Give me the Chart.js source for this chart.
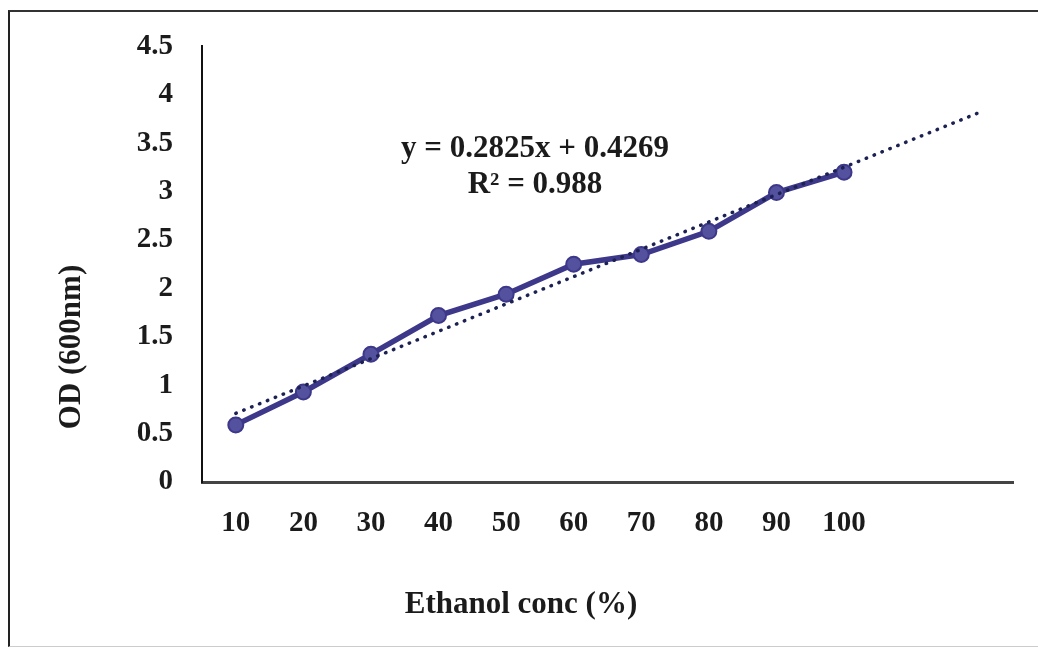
<!DOCTYPE html>
<html>
<head>
<meta charset="utf-8">
<title>Ethanol conc vs OD</title>
<script src="https://cdn.jsdelivr.net/npm/chart.js@4.4.1/dist/chart.umd.min.js"></script>
<style>
    html, body { margin: 0; padding: 0; background: #fff; }
    #wrap { position: relative; width: 1038px; height: 648px; overflow: hidden; }
    #frame {
        position: absolute; left: 8px; top: 10px; width: 1100px; height: 634px;
        border-left: 2px solid #222; border-top: 2px solid #333; border-bottom: 1px solid #ccc;
        pointer-events: none;
    }
    canvas { position: absolute; left: 0; top: 0; }
</style>
</head>
<body>
<div id="wrap">
    <canvas id="odChart" width="1038" height="648"></canvas>
    <div id="frame"></div>
</div>
<script>
// Ethanol concentration (%) and measured OD at 600nm
const concentrations = [10, 20, 30, 40, 50, 60, 70, 80, 90, 100];
const odValues = [0.59, 0.93, 1.32, 1.72, 1.94, 2.25, 2.35, 2.59, 2.99, 3.20];
const yTicks = [0, 0.5, 1, 1.5, 2, 2.5, 3, 3.5, 4, 4.5];

// Linear trendline (x = point index, forecast two periods ahead)
const slope = 0.2825;
const intercept = 0.4269;
const rSquared = 0.988;
const trendFrom = 1;
const trendTo = 12;

const serif = '"Liberation Serif", "Times New Roman", serif';
const textColor = '#1b1b1b';

const trendData = [trendFrom, trendTo].map(i => ({ x: i * 10, y: slope * i + intercept }));

// Equation label and axis titles, drawn at fixed spots like the spreadsheet layout
const labelsPlugin = {
    id: 'labels',
    afterDraw(chart) {
        const ctx = chart.ctx;
        ctx.save();
        ctx.fillStyle = textColor;
        ctx.textAlign = 'center';
        ctx.textBaseline = 'middle';
        ctx.font = 'bold 31px ' + serif;
        ctx.fillText('y = ' + slope + 'x + ' + intercept, 535, 149);
        ctx.fillText('R² = ' + rSquared, 535, 185);

        ctx.fillText('Ethanol conc (%)', 521, 605);

        ctx.translate(72, 347);
        ctx.rotate(-Math.PI / 2);
        ctx.fillText('OD (600nm)', 0, 0);
        ctx.restore();
    }
};

const ctx = document.getElementById('odChart').getContext('2d');
new Chart(ctx, {
    type: 'line',
    data: {
        datasets: [{
            label: 'OD',
            data: concentrations.map((c, i) => ({ x: c, y: odValues[i] })),
            borderColor: '#3d3889',
            borderWidth: 5.5,
            pointRadius: 7.5,
            pointBackgroundColor: '#54519e',
            pointBorderColor: '#3d3889',
            pointBorderWidth: 2,
            tension: 0,
            order: 1
        }, {
            label: 'Linear',
            data: trendData,
            borderColor: '#1c2153',
            borderWidth: 3.5,
            borderDash: [0.5, 8],
            borderCapStyle: 'round',
            pointRadius: 0,
            order: 0
        }]
    },
    options: {
        responsive: false,
        animation: false,
        layout: { padding: { top: 46, right: 25, left: 0, bottom: 0 } },
        plugins: {
            legend: { display: false },
            tooltip: { enabled: false }
        },
        scales: {
            x: {
                type: 'linear',
                min: 5,
                max: 125,
                afterFit: s => { s.height = 166; },
                afterBuildTicks: s => { s.ticks = concentrations.map(v => ({ value: v })); },
                grid: { display: false, drawTicks: false },
                border: { display: true, color: '#444', width: 3 },
                ticks: {
                    color: textColor,
                    padding: 24,
                    maxRotation: 0,
                    autoSkip: false,
                    callback: v => String(v),
                    font: { family: serif, size: 29, weight: 'bold' }
                }
            },
            y: {
                min: 0,
                max: 4.5,
                afterFit: s => { s.width = 202; },
                afterBuildTicks: s => { s.ticks = yTicks.map(v => ({ value: v })); },
                grid: { display: false, drawTicks: false },
                border: { display: true, color: '#111', width: 2 },
                ticks: {
                    color: textColor,
                    padding: 29,
                    callback: v => String(v),
                    font: { family: serif, size: 29, weight: 'bold' }
                }
            }
        }
    },
    plugins: [labelsPlugin]
});
</script>
</body>
</html>
